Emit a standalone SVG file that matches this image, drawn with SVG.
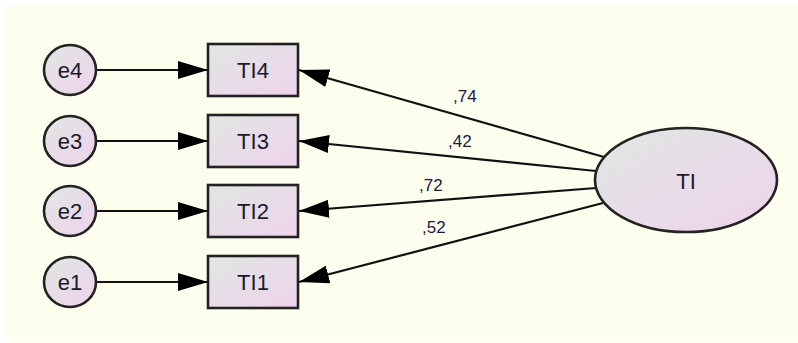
<svg xmlns="http://www.w3.org/2000/svg" width="798" height="343" viewBox="0 0 798 343">
<defs>
<linearGradient id="g" x1="0" y1="0" x2="1" y2="1">
<stop offset="0" stop-color="#e1e6e3"/>
<stop offset="1" stop-color="#eed3ec"/>
</linearGradient>
<marker id="ah" markerUnits="userSpaceOnUse" markerWidth="32" markerHeight="20" refX="30" refY="9" orient="auto">
<path d="M0,0 L30,9 L0,18 z" fill="#000"/>
</marker>
<style>
.n{fill:url(#g);stroke:#222;stroke-width:2.6}
.t{font-family:"Liberation Sans",Arial,sans-serif;font-size:22px;fill:#1a1a2a;text-anchor:middle}
.l{font-family:"Liberation Sans",Arial,sans-serif;font-size:17px;fill:#1a1a3a}
.c line{stroke:#111;stroke-width:2.2;marker-end:url(#ah)}
</style>
</defs>
<rect x="0" y="0" width="798" height="343" fill="#fff"/>
<rect x="5" y="6" width="793" height="336" fill="#fdfeee"/>
<g class="c" id="connectors">
<line x1="96" y1="70" x2="208" y2="70"/>
<line x1="96" y1="141" x2="208" y2="141"/>
<line x1="96" y1="211" x2="208" y2="211"/>
<line x1="96" y1="282" x2="208" y2="282"/>
<line x1="604" y1="157" x2="299" y2="70"/>
<line x1="596" y1="171" x2="299" y2="141"/>
<line x1="596" y1="188" x2="299" y2="211"/>
<line x1="603" y1="203" x2="299" y2="282"/>
</g>
<g id="labels">
<text class="l" x="453" y="102">,74</text>
<text class="l" x="448" y="147">,42</text>
<text class="l" x="419" y="191">,72</text>
<text class="l" x="422" y="233">,52</text>
</g>
<g id="e4"><ellipse class="n" cx="70" cy="70" rx="26" ry="25"/><text class="t" x="70" y="78">e4</text></g>
<g id="e3"><ellipse class="n" cx="70" cy="141" rx="26" ry="25"/><text class="t" x="70" y="149">e3</text></g>
<g id="e2"><ellipse class="n" cx="70" cy="211" rx="26" ry="25"/><text class="t" x="70" y="219">e2</text></g>
<g id="e1"><ellipse class="n" cx="70" cy="282" rx="26" ry="25"/><text class="t" x="70" y="290">e1</text></g>
<g id="TI4"><rect class="n" x="208" y="44" width="90" height="52"/><text class="t" x="253" y="78">TI4</text></g>
<g id="TI3"><rect class="n" x="208" y="115" width="90" height="52"/><text class="t" x="253" y="149">TI3</text></g>
<g id="TI2"><rect class="n" x="208" y="185" width="90" height="52"/><text class="t" x="253" y="219">TI2</text></g>
<g id="TI1"><rect class="n" x="208" y="256" width="90" height="52"/><text class="t" x="253" y="290">TI1</text></g>
<g id="TI"><ellipse class="n" cx="686" cy="180" rx="91" ry="52"/><text class="t" x="686" y="189">TI</text></g>
</svg>
